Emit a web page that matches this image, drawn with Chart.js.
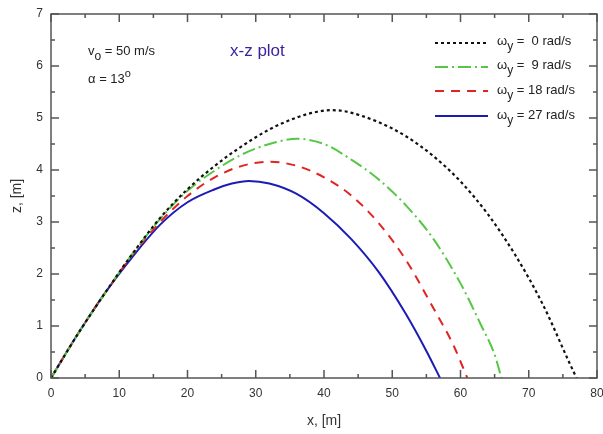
<!DOCTYPE html>
<html>
<head>
<meta charset="utf-8">
<script src="https://cdn.jsdelivr.net/npm/chart.js@4"></script>
<style>
  html, body { margin: 0; padding: 0; background: #fff; }
  #wrap { position: relative; width: 603px; height: 434px; font-family: 'Liberation Sans', Arial, sans-serif; color: #222; }
  #wrap canvas { position: absolute; left: 0; top: 0; }
  .note { position: absolute; white-space: pre; font-size: 13px; line-height: 16px; }
  .note sub { font-size: 12px; vertical-align: -5px; line-height: 0; }
  .note sup { font-size: 11px; vertical-align: 6px; line-height: 0; }
  .title { color: #3a1f9e; font-size: 17px; line-height: 20px; }
</style>
</head>
<body>
<div id="wrap">
  <canvas id="c" width="603" height="434"></canvas>
  <div class="note" style="left:88px; top:43px;">v<sub>o</sub> = 50 m/s</div>
  <div class="note" style="left:88px; top:71px;">α = 13<sup>o</sup></div>
  <div class="note title" style="left:230px; top:41px;">x-z plot</div>
  <div class="note" style="left:497px; top:33px;">ω<sub>y</sub> =  0 rad/s</div>
  <div class="note" style="left:497px; top:57px;">ω<sub>y</sub> =  9 rad/s</div>
  <div class="note" style="left:497px; top:82px;">ω<sub>y</sub> = 18 rad/s</div>
  <div class="note" style="left:497px; top:107px;">ω<sub>y</sub> = 27 rad/s</div>
</div>
<script>
const X_TICKS = [0, 10, 20, 30, 40, 50, 60, 70, 80];
const Z_TICKS = [0, 1, 2, 3, 4, 5, 6, 7];

// omega_y = 0 rad/s
const X_W0 = [0, 4, 8, 12, 16, 20, 24, 28, 32, 36, 39, 41, 43, 48, 52, 56, 60, 64, 68, 72, 76, 77];
const Z_W0 = [0, 0.86, 1.65, 2.4, 3.08, 3.63, 4.08, 4.46, 4.78, 5.01, 5.12, 5.15, 5.13, 4.92, 4.65, 4.27, 3.78, 3.15, 2.37, 1.43, 0.28, 0];
// omega_y = 9 rad/s
const X_W9 = [0, 4, 8, 12, 16, 20, 24, 28, 32, 36, 40, 44, 48, 52, 56, 60, 63, 65, 66];
const Z_W9 = [0, 0.86, 1.65, 2.4, 3.06, 3.6, 3.99, 4.3, 4.5, 4.6, 4.5, 4.2, 3.82, 3.32, 2.68, 1.82, 1.02, 0.45, 0];
// omega_y = 18 rad/s
const X_W18 = [0, 4, 8, 12, 16, 20, 24, 28, 32, 36, 40, 44, 48, 52, 56, 59, 61];
const Z_W18 = [0, 0.86, 1.65, 2.38, 3.0, 3.5, 3.86, 4.08, 4.16, 4.08, 3.86, 3.51, 2.98, 2.27, 1.35, 0.62, 0];
// omega_y = 27 rad/s
const X_W27 = [0, 4, 8, 12, 16, 20, 24, 26.5, 29, 32, 36, 40, 44, 48, 52, 55, 57];
const Z_W27 = [0, 0.86, 1.65, 2.34, 2.95, 3.38, 3.63, 3.74, 3.79, 3.74, 3.54, 3.17, 2.67, 2.04, 1.23, 0.52, 0];

const SERIES = [
  { label: 'ωy = 0 rad/s',  xs: X_W0,  zs: Z_W0,  color: '#111111', dash: [3, 3],        width: 2.2 },
  { label: 'ωy = 9 rad/s',  xs: X_W9,  zs: Z_W9,  color: '#55c745', dash: [13, 4, 2, 4], width: 2 },
  { label: 'ωy = 18 rad/s', xs: X_W18, zs: Z_W18, color: '#e02424', dash: [9, 7],        width: 2 },
  { label: 'ωy = 27 rad/s', xs: X_W27, zs: Z_W27, color: '#1c1cb4', dash: [],            width: 2 },
];

const FONT = "'Liberation Sans', Arial, sans-serif";
const AXIS = '#555';
const TXT  = '#333';

// frame with inward ticks on all four sides, plus legend line samples
const framePlugin = {
  id: 'frame',
  afterDraw(chart) {
    const { ctx, chartArea: a, scales: { x, y } } = chart;
    ctx.save();
    ctx.strokeStyle = AXIS;
    ctx.lineWidth = 1.5;
    ctx.setLineDash([]);
    ctx.strokeRect(a.left, a.top, a.right - a.left, a.bottom - a.top);
    ctx.beginPath();
    for (let v = 0; v <= 80; v += 5) {
      const px = x.getPixelForValue(v);
      const len = v % 10 === 0 ? 8 : 4;
      ctx.moveTo(px, a.bottom); ctx.lineTo(px, a.bottom - len);
      ctx.moveTo(px, a.top);    ctx.lineTo(px, a.top + len);
    }
    for (let v = 0; v <= 7; v += 0.5) {
      const py = y.getPixelForValue(v);
      const len = v % 1 === 0 ? 8 : 4;
      ctx.moveTo(a.left, py);  ctx.lineTo(a.left + len, py);
      ctx.moveTo(a.right, py); ctx.lineTo(a.right - len, py);
    }
    ctx.stroke();

    const rows = [43, 67, 91, 116];
    SERIES.forEach((s, i) => {
      ctx.beginPath();
      ctx.strokeStyle = s.color;
      ctx.lineWidth = s.width;
      ctx.setLineDash(s.dash);
      ctx.moveTo(435, rows[i]);
      ctx.lineTo(488, rows[i]);
      ctx.stroke();
    });
    ctx.restore();
  },
};

new Chart(document.getElementById('c'), {
  type: 'line',
  data: {
    datasets: SERIES.map((s) => ({
      label: s.label,
      data: s.xs.map((x, i) => ({ x, y: s.zs[i] })),
      borderColor: s.color,
      borderWidth: s.width,
      borderDash: s.dash,
      pointRadius: 0,
      fill: false,
      cubicInterpolationMode: 'monotone',
    })),
  },
  options: {
    responsive: false,
    animation: false,
    layout: { padding: { left: 0, right: 6, top: 14, bottom: 0 } },
    plugins: { legend: { display: false }, tooltip: { enabled: false } },
    scales: {
      x: {
        type: 'linear',
        min: 0,
        max: 80,
        afterFit: (s) => { s.height = 56; s.paddingLeft = 0; s.paddingRight = 0; },
        afterBuildTicks: (s) => { s.ticks = X_TICKS.map((v) => ({ value: v })); },
        ticks: { color: TXT, padding: 8, font: { family: FONT, size: 12 }, maxRotation: 0 },
        grid: { display: false, drawTicks: false },
        border: { display: false },
        title: { display: true, text: 'x, [m]', color: TXT, font: { family: FONT, size: 14 }, padding: { top: 0, bottom: 4 } },
      },
      y: {
        min: 0,
        max: 7,
        afterFit: (s) => { s.width = 51; s.paddingTop = 0; s.paddingBottom = 0; },
        afterBuildTicks: (s) => { s.ticks = Z_TICKS.map((v) => ({ value: v })); },
        ticks: { color: TXT, padding: 8, font: { family: FONT, size: 12 } },
        grid: { display: false, drawTicks: false },
        border: { display: false },
        title: { display: true, text: 'z, [m]', color: TXT, font: { family: FONT, size: 14 }, padding: { top: 9, bottom: 0 } },
      },
    },
  },
  plugins: [framePlugin],
});
</script>
</body>
</html>
